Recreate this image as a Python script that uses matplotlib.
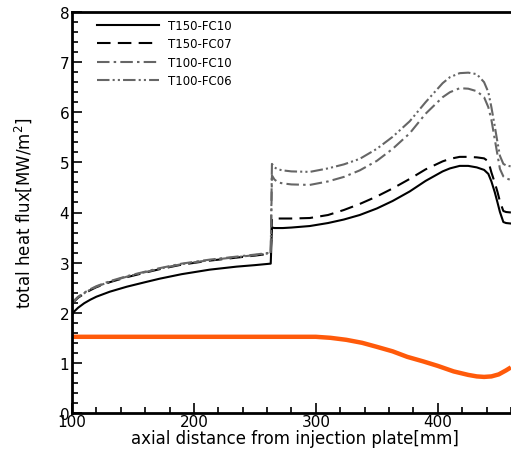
import numpy as np
import matplotlib
matplotlib.use("Agg")
import matplotlib.pyplot as plt
from matplotlib.ticker import MultipleLocator

# ---- data ----
x_pre = [100, 102, 105, 110, 115, 120, 131, 145, 160, 172, 190, 213, 235, 250, 263]
y_pre_t150fc10 = [1.96, 2.03, 2.1, 2.19, 2.26, 2.32, 2.42, 2.52, 2.61, 2.68, 2.77, 2.86, 2.92, 2.95, 2.98]
y_pre_t100 = [2.17, 2.23, 2.3, 2.38, 2.45, 2.51, 2.61, 2.71, 2.8, 2.87, 2.96, 3.04, 3.1, 3.14, 3.18]

x_post = [264, 266, 269, 273, 280, 295, 310, 323, 336, 350, 363, 377, 390, 404, 410, 418, 425, 432,
          438, 441.5, 444, 446.7, 449, 451, 453.8, 456, 460]
y_post_t150fc10 = [3.7, 3.69, 3.69, 3.69, 3.7, 3.73, 3.79, 3.86, 3.95, 4.08, 4.23, 4.42, 4.63, 4.82, 4.88, 4.93, 4.93, 4.9,
                   4.85, 4.77, 4.62, 4.41, 4.2, 4.01, 3.81, 3.79, 3.78]
y_post_t150fc07 = [3.88, 3.88, 3.88, 3.88, 3.88, 3.89, 3.95, 4.05, 4.17, 4.32, 4.48, 4.67, 4.86, 5.02, 5.07, 5.11, 5.11, 5.1,
                   5.08, 5.02, 4.8, 4.6, 4.41, 4.22, 4.03, 4.01, 4.0]
y_post_t100fc10 = [4.74, 4.66, 4.6, 4.58, 4.56, 4.55, 4.62, 4.71, 4.84, 5.03, 5.27, 5.58, 5.97, 6.3, 6.4, 6.48, 6.47, 6.42,
                   6.3, 6.1, 5.85, 5.47, 5.15, 4.87, 4.72, 4.68, 4.65]
y_post_t100fc06 = [4.97, 4.9, 4.86, 4.84, 4.82, 4.81, 4.88, 4.96, 5.07, 5.27, 5.51, 5.82, 6.2, 6.58, 6.7, 6.78, 6.79, 6.76,
                   6.6, 6.4, 6.1, 5.73, 5.4, 5.13, 4.97, 4.94, 4.92]

x_orange = [100, 150, 200, 250, 300, 312, 325, 338, 350, 363, 375, 388, 400, 413, 425, 432, 438, 444, 450, 456, 460]
y_orange = [1.52, 1.52, 1.52, 1.52, 1.52, 1.5, 1.46, 1.4, 1.32, 1.23, 1.12, 1.03, 0.94, 0.83, 0.76, 0.73, 0.72, 0.73, 0.77, 0.85, 0.91]

labels = ["T150-FC10", "T150-FC07", "T100-FC10", "T100-FC06"]

x_all = np.array(x_pre + x_post)
series = [
    np.array(y_pre_t150fc10 + y_post_t150fc10),
    np.array(y_pre_t100 + y_post_t150fc07),
    np.array([v + 0.02 for v in y_pre_t100] + y_post_t100fc10),
    np.array([v + 0.01 for v in y_pre_t100] + y_post_t100fc06),
]
styles = [
    dict(color="black", linestyle="-", lw=1.5),
    dict(color="black", linestyle=(0, (6.5, 3.5)), lw=1.5),
    dict(color="#666666", linestyle=(0, (6, 2, 1.2, 2)), lw=1.5),
    dict(color="#666666", linestyle=(0, (6, 1.5, 1, 1.5, 1, 1.5)), lw=1.5),
]

fig = plt.figure(figsize=(5.11, 4.56), dpi=100)
ax = fig.add_axes([72 / 511, (456 - 414) / 456, 445 / 511, 401 / 456])

for y, lab, st in zip(series, labels, styles):
    ax.plot(x_all, y, label=lab, solid_joinstyle="round", **st)
ax.plot(x_orange, y_orange, color="#ff5a0a", lw=3.2, solid_capstyle="butt", solid_joinstyle="round")

ax.set_xlim(100, 465)
ax.set_ylim(0, 8)
ax.xaxis.set_major_locator(MultipleLocator(100))
ax.xaxis.set_minor_locator(MultipleLocator(20))
ax.yaxis.set_major_locator(MultipleLocator(1))
ax.yaxis.set_minor_locator(MultipleLocator(0.2))
ax.tick_params(which="both", direction="in", width=1.2, labelsize=11, colors="black")
ax.tick_params(which="major", length=7, pad=2)
ax.tick_params(which="minor", length=4)
ax.tick_params(axis="x", pad=1)
for s in ["left", "bottom", "top"]:
    ax.spines[s].set_linewidth(2)
ax.spines["right"].set_visible(False)

ax.set_xlabel("axial distance from injection plate[mm]", fontsize=12, labelpad=0)
ax.set_ylabel("total heat flux[MW/m$^2$]", fontsize=12, labelpad=18)

ax.legend(loc="upper left", frameon=False, fontsize=8.5, handlelength=5.3,
          handletextpad=0.7, labelspacing=0.45, borderaxespad=0.2,
          bbox_to_anchor=(0.04, 1.0))

fig.savefig("out.png", dpi=100)
